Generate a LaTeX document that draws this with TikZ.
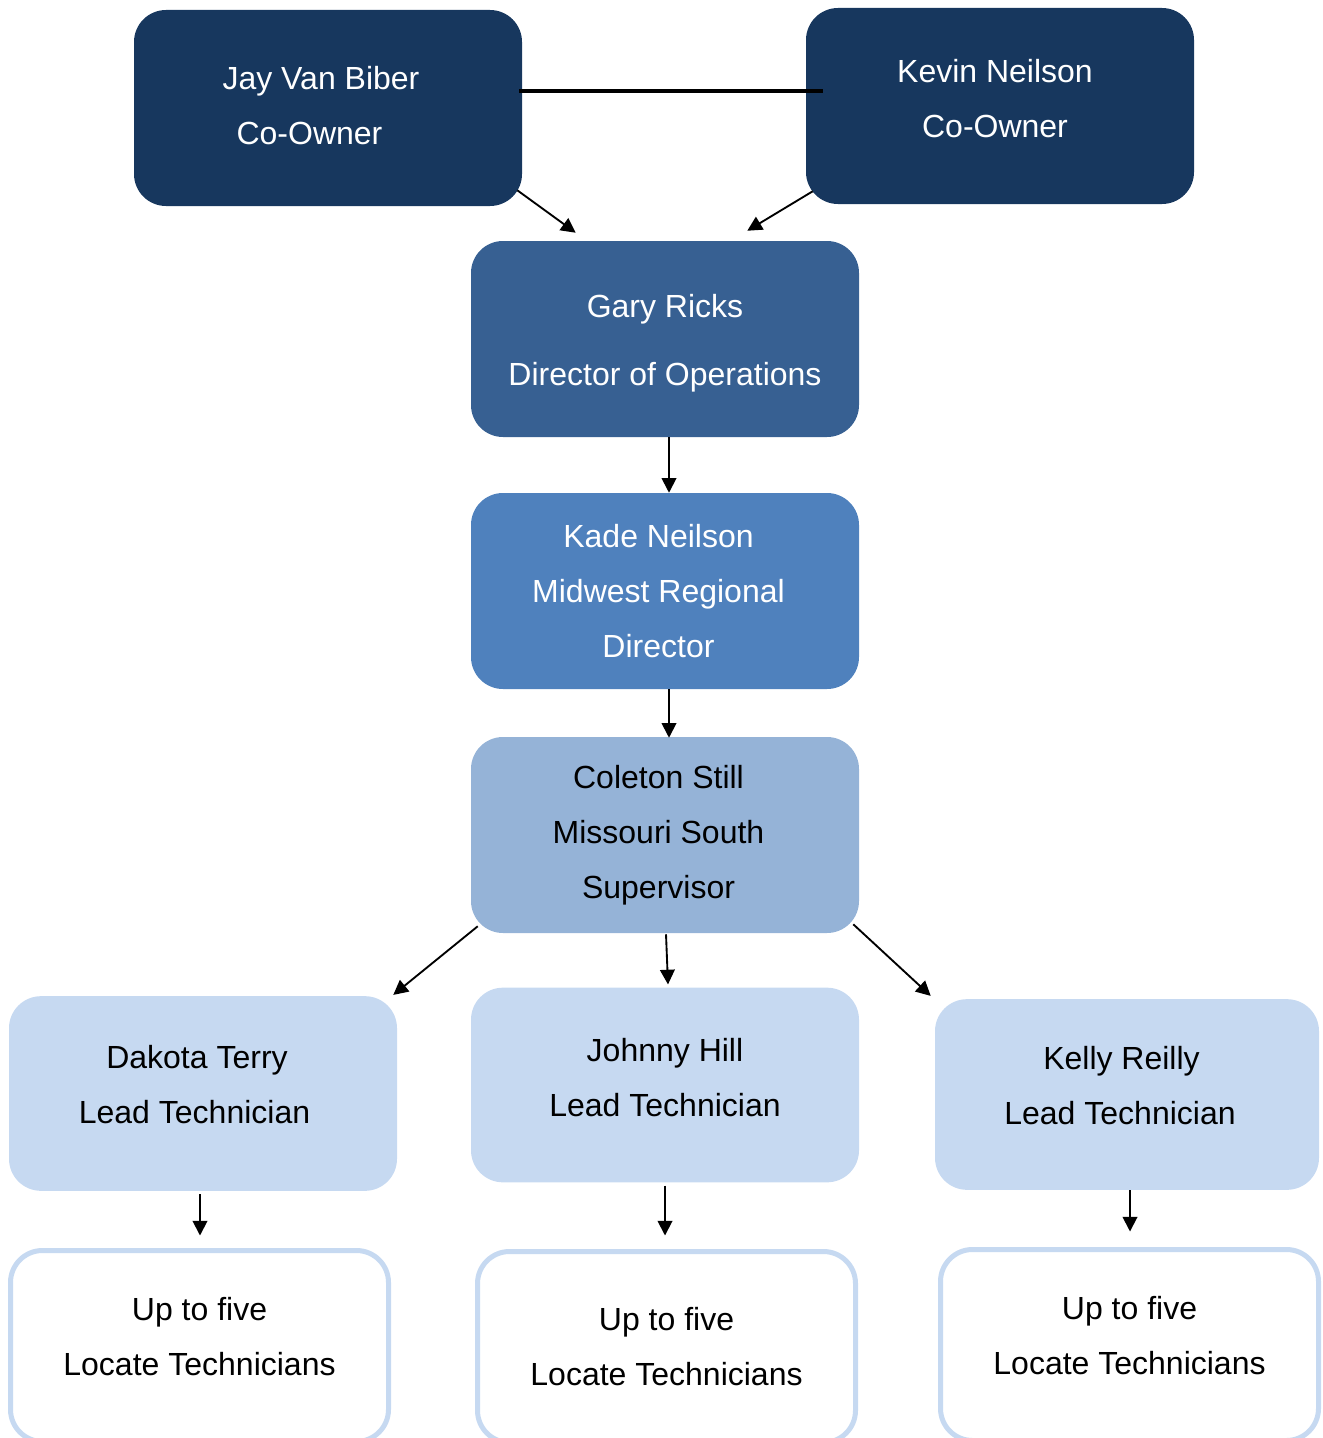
\documentclass[tikz,border=0pt]{standalone}
\usepackage{fontspec}
\setmainfont{Liberation Sans}
\usetikzlibrary{arrows.meta}

\definecolor{navy}{RGB}{23,55,94}
\definecolor{steel}{RGB}{55,96,146}
\definecolor{midblue}{RGB}{79,129,189}
\definecolor{paleblue}{RGB}{149,179,215}
\definecolor{iceblue}{RGB}{198,217,241}
\newcommand{\padline}[2]{\mbox{#1\hspace{#2}}}

\begin{document}
\begin{tikzpicture}[x=0.75pt,y=0.75pt,yscale=-1,xscale=1,
  box/.style={rounded corners=24pt,minimum width=291pt,minimum height=147pt,inner sep=0pt,align=center,
    font=\fontsize{24}{41.25}\selectfont},
  textup/.style={execute at end node={\rule[-#1]{0pt}{#1}}},
  lvlA/.style={box,fill=navy,text=white},
  lvlB/.style={box,fill=steel,text=white},
  lvlC/.style={box,fill=midblue,text=white},
  lvlD/.style={box,fill=paleblue,text=black},
  lvlE/.style={box,fill=iceblue,text=black,minimum height=146pt},
  techbox/.style={box,draw=iceblue,line width=3.75pt,fill=white,text=black,minimum width=283.5pt,minimum height=143.25pt},
  tip/.style={line width=1.4pt,-{Triangle[length=11pt,width=11pt]}},
  tie/.style={line width=2.6pt}]
\useasboundingbox (0,0) rectangle (1323,1438);

% Owners
\node[lvlA,textup=4.5pt] (jay) at (328,108) {\padline{Jay Van Biber}{10.5pt}\\\padline{Co-Owner}{27.75pt}};
\node[lvlA,textup=12pt] (kevin) at (1000,106) {\padline{Kevin Neilson}{7.5pt}\\\padline{Co-Owner}{7.5pt}};
% Operations
\node[lvlB] (gary) at (665,339) {\rule{0pt}{23pt}Gary Ricks\\[9.75pt]Director of Operations};
\node[lvlC] (kade) at (665,591) {\padline{Kade Neilson}{9.75pt}\\\padline{Midwest Regional}{9.75pt}\\\padline{Director}{9.75pt}};
\node[lvlD] (coleton) at (665,835) {\padline{Coleton Still}{9.75pt}\\\padline{Missouri South}{9.75pt}\\\padline{Supervisor}{9.75pt}};
% Lead technicians
\node[lvlE,textup=13.5pt] (dakota) at (203,1093.5) {\padline{Dakota Terry}{9pt}\\\padline{Lead Technician}{12.75pt}};
\node[lvlE,textup=11.25pt] (johnny) at (665,1085) {Johnny Hill\\Lead Technician};
\node[lvlE,textup=13.5pt,minimum width=288pt,minimum height=143pt] (kelly) at (1127,1094.5) {\padline{Kelly Reilly}{8.25pt}\\\padline{Lead Technician}{10.5pt}};
% Locate technicians
\node[techbox,textup=14.25pt] (techA) at (199.5,1346) {Up to five\\Locate Technicians};
\node[techbox] (techB) at (666.5,1347) {Up to five\\Locate Technicians};
\node[techbox,textup=14.25pt] (techC) at (1129.5,1345) {Up to five\\Locate Technicians};

% Connectors
\draw[tie] ([shift={(-3,-17)}]jay.east) -- ([shift={(17,-15)}]kevin.west);
\draw[tip] ([shift={(-5,-16)}]jay.south east) -- ([shift={(105,-8)}]gary.north west);
\draw[tip] ([shift={(7,-13)}]kevin.south west) -- ([shift={(-112,-10)}]gary.north east);
\draw[tip] ([shift={(4,0)}]gary.south) -- ([shift={(4,0)}]kade.north);
\draw[tip] ([shift={(4,0)}]kade.south) -- ([shift={(4,1)}]coleton.north);
\draw[tip] ([shift={(7,-7)}]coleton.south west) -- ([shift={(-4,-1)}]dakota.north east);
\draw[tip] ([shift={(1,1)}]coleton.south) -- ([shift={(3,-3)}]johnny.north);
\draw[tip] ([shift={(-6,-9)}]coleton.south east) -- ([shift={(-4,-3)}]kelly.north west);
\draw[tip] ([shift={(-3,3)}]dakota.south) -- ([shift={(0.5,-12.5)}]techA.north);
\draw[tip] ([shift={(0,3)}]johnny.south) -- ([shift={(-1.5,-13.5)}]techB.north);
\draw[tip] ([shift={(3,0)}]kelly.south) -- ([shift={(0.5,-15.5)}]techC.north);

\end{tikzpicture}
\end{document}
